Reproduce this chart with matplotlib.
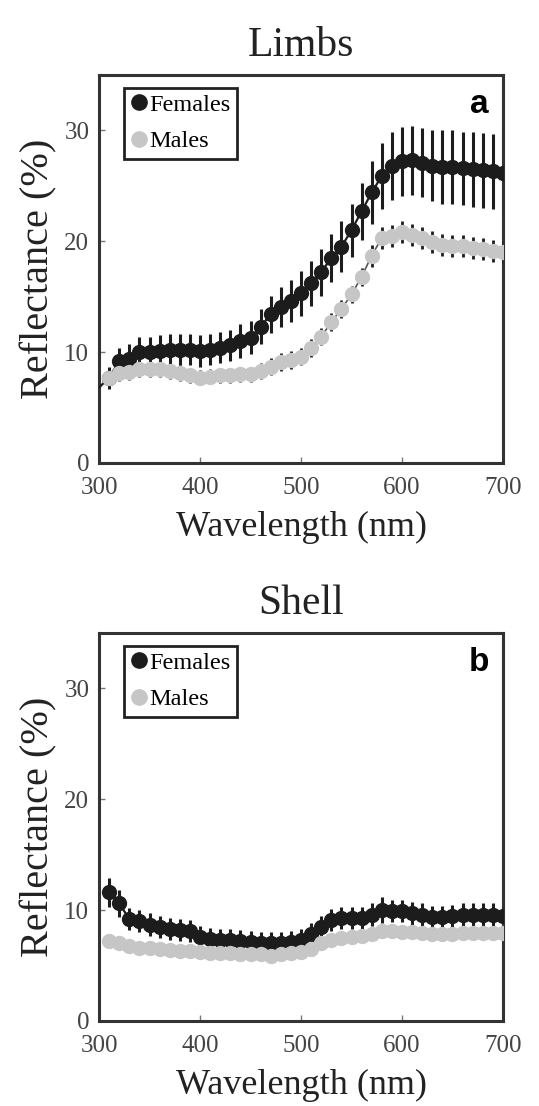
import matplotlib.pyplot as plt
from matplotlib.lines import Line2D

plt.rcParams['font.family'] = ['Liberation Serif', 'DejaVu Serif']

# wavelengths (nm); limb females also carry a 300 nm point for the start of the line
wl = list(range(300, 701, 10))
wl_pts = wl[1:]

limbs_fem = [6.8, 7.7, 9.2, 9.4, 10.0, 10.0, 10.1, 10.2, 10.2, 10.2, 10.1,
             10.2, 10.4, 10.6, 11.0, 11.3, 12.3, 13.4, 14.1, 14.6, 15.3,
             16.2, 17.2, 18.5, 19.5, 21.0, 22.7, 24.4, 25.9, 26.8, 27.2,
             27.3, 27.1, 26.8, 26.7, 26.7, 26.6, 26.5, 26.4, 26.3, 26.2]
limbs_fem_err = [0.8, 1.0, 1.2, 1.3, 1.4, 1.4, 1.4, 1.4, 1.4, 1.4, 1.4,
                 1.4, 1.4, 1.4, 1.5, 1.5, 1.6, 1.7, 1.8, 1.9, 2.0,
                 2.0, 2.1, 2.2, 2.3, 2.4, 2.6, 2.8, 3.0, 3.1, 3.1,
                 3.1, 3.1, 3.2, 3.3, 3.3, 3.3, 3.4, 3.4, 3.4, 3.4]
limbs_male = [7.7, 8.1, 8.2, 8.5, 8.5, 8.5, 8.3, 8.1, 7.9, 7.7,
              7.8, 7.9, 7.9, 8.0, 8.0, 8.3, 8.7, 9.1, 9.3, 9.6,
              10.4, 11.4, 12.7, 13.9, 15.2, 16.8, 18.7, 20.3, 20.5, 20.8,
              20.6, 20.3, 19.9, 19.7, 19.6, 19.6, 19.4, 19.3, 19.1, 19.0]
limbs_male_err = [0.7] * 16 + [0.8] * 10 + [1.0] * 14

shell_fem = [11.6, 10.6, 9.2, 9.0, 8.7, 8.5, 8.3, 8.2, 8.1, 7.6,
             7.4, 7.3, 7.3, 7.2, 7.1, 7.0, 7.0, 7.0, 7.1, 7.3,
             7.8, 8.5, 9.1, 9.3, 9.3, 9.3, 9.6, 10.0, 9.9, 9.9,
             9.7, 9.6, 9.4, 9.4, 9.5, 9.6, 9.6, 9.6, 9.6, 9.5]
shell_fem_err = [1.3, 1.2] + [1.0] * 25 + [1.2] + [1.0] * 12
shell_male = [7.2, 7.0, 6.8, 6.6, 6.6, 6.5, 6.4, 6.3, 6.3, 6.2,
              6.1, 6.1, 6.1, 6.0, 6.0, 6.0, 5.9, 6.0, 6.1, 6.2,
              6.5, 7.0, 7.3, 7.5, 7.6, 7.7, 7.8, 8.1, 8.1, 8.0,
              8.0, 7.9, 7.8, 7.8, 7.8, 7.9, 7.9, 7.9, 7.9, 7.9]
shell_male_err = [0.6] * 40

FEM = '#1c1c1c'
MALE = '#c6c6c6'
FRAME = '#333333'


def draw_panel(ax, title, letter, fx, fy, fe, mx, my, me, first=0):
    ax.errorbar(fx[first:], fy[first:], yerr=fe[first:], fmt='none',
                ecolor=FEM, elinewidth=2.2, capsize=0, zorder=2)
    ax.plot(fx, fy, color=FEM, lw=1.6, zorder=3)
    ax.plot(fx[first:], fy[first:], 'o', color=FEM, ms=10, zorder=4)
    ax.errorbar(mx, my, yerr=me, fmt='none', ecolor=FEM, elinewidth=2.0,
                capsize=0, zorder=5)
    ax.plot(mx, my, color='#555555', lw=1.2, zorder=5.5)
    ax.plot(mx, my, 'o', color=MALE, ms=10, zorder=6)

    ax.set_xlim(300, 700)
    ax.set_ylim(0, 35)
    ax.set_xticks([300, 400, 500, 600, 700])
    ax.set_yticks([0, 10, 20, 30])
    ax.tick_params(direction='in', length=4, width=1, color='#777777',
                   labelsize=18, labelcolor='#444444')
    ax.tick_params(axis='x', pad=10)
    ax.tick_params(axis='y', pad=7)
    for s in ax.spines.values():
        s.set_linewidth(2.2)
        s.set_color(FRAME)
    ax.set_xlabel('Wavelength (nm)', fontsize=26, color='#222222', labelpad=9)
    ax.set_ylabel('Reflectance (%)', fontsize=29, color='#222222', labelpad=5)
    ax.set_title(title, fontsize=30, color='#222222', pad=14)
    ax.text(0.965, 0.965, letter, transform=ax.transAxes, ha='right', va='top',
            fontsize=24, fontweight='bold', family=['Liberation Sans', 'DejaVu Sans'])

    handles = [Line2D([], [], ls='none', marker='o', color=FEM, ms=11, label='Females'),
               Line2D([], [], ls='none', marker='o', color=MALE, ms=11, label='Males')]
    leg = ax.legend(handles=handles, loc='upper left', bbox_to_anchor=(0.062, 0.967),
                    fontsize=17.5, fancybox=False, framealpha=1, edgecolor='#222222',
                    handletextpad=0.1, handlelength=0.7, borderpad=0.25,
                    labelspacing=0.6, borderaxespad=0)
    leg.get_frame().set_linewidth(2.0)


fig = plt.figure(figsize=(5.39, 11.06), dpi=100)
ax1 = fig.add_axes([0.1837, 0.5814, 0.7495, 0.3508])
ax2 = fig.add_axes([0.1837, 0.0769, 0.7495, 0.3508])

draw_panel(ax1, 'Limbs', 'a', wl, limbs_fem, limbs_fem_err,
           wl_pts, limbs_male, limbs_male_err, first=1)
draw_panel(ax2, 'Shell', 'b', wl_pts, shell_fem, shell_fem_err,
           wl_pts, shell_male, shell_male_err)

fig.savefig('out.png', dpi=100)
